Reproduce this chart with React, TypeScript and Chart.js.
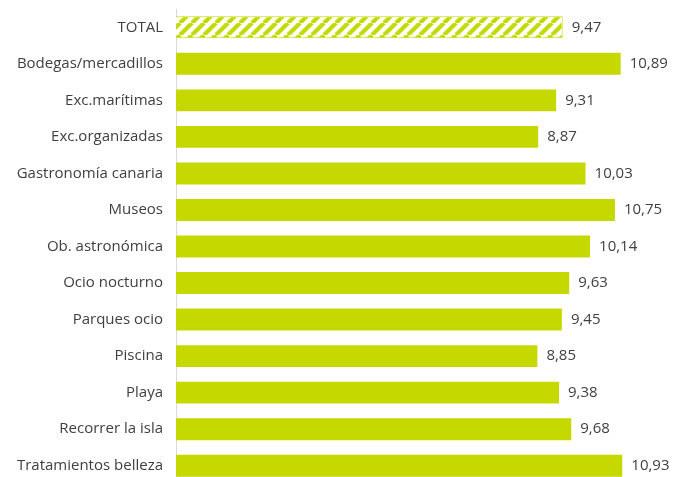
import React, { useEffect, useRef } from "react";
import { Chart, registerables } from "chart.js";

Chart.register(...registerables);

const categories = [
  "TOTAL",
  "Bodegas/mercadillos",
  "Exc.marítimas",
  "Exc.organizadas",
  "Gastronomía canaria",
  "Museos",
  "Ob. astronómica",
  "Ocio nocturno",
  "Parques ocio",
  "Piscina",
  "Playa",
  "Recorrer la isla",
  "Tratamientos belleza",
];
const values = [9.47, 10.89, 9.31, 8.87, 10.03, 10.75, 10.14, 9.63, 9.45, 8.85, 9.38, 9.68, 10.93];

const GREEN = "rgb(197,217,0)";
const FONT = "'Open Sans', sans-serif";

function makePattern(): CanvasPattern | string {
  const s = 12;
  const c = document.createElement("canvas");
  c.width = s;
  c.height = s;
  const ctx = c.getContext("2d");
  if (!ctx) return GREEN;
  ctx.fillStyle = "#ffffff";
  ctx.fillRect(0, 0, s, s);
  ctx.strokeStyle = GREEN;
  ctx.lineWidth = 4.2;
  ctx.beginPath();
  for (let k = -s; k <= 2 * s; k += s) {
    ctx.moveTo(k, s);
    ctx.lineTo(k + s, 0);
  }
  ctx.stroke();
  const p = ctx.createPattern(c, "repeat");
  return p || GREEN;
}

const valueLabels = {
  id: "valueLabels",
  afterDatasetsDraw(chart: any) {
    const ctx = chart.ctx;
    const meta = chart.getDatasetMeta(0);
    ctx.save();
    ctx.font = `15px ${FONT}`;
    ctx.fillStyle = "#404040";
    ctx.textAlign = "left";
    ctx.textBaseline = "middle";
    meta.data.forEach((bar: any, i: number) => {
      const txt = values[i].toFixed(2).replace(".", ",");
      ctx.fillText(txt, bar.x + 9, bar.y);
    });
    ctx.restore();
  },
};

export default function App() {
  const ref = useRef<HTMLCanvasElement>(null);
  useEffect(() => {
    if (!ref.current) return;
    const pattern = makePattern();
    const bg = values.map((_, i) => (i === 0 ? pattern : GREEN));
    const chart = new Chart(ref.current, {
      type: "bar",
      data: {
        labels: categories,
        datasets: [
          {
            data: values,
            backgroundColor: bg as any,
            borderColor: GREEN,
            borderWidth: values.map((_, i) => (i === 0 ? 1 : 0)),
            categoryPercentage: 1,
            barPercentage: 0.6,
          },
        ],
      },
      options: {
        indexAxis: "y",
        animation: false,
        responsive: false,
        maintainAspectRatio: false,
        layout: { padding: { top: 6, right: 17, bottom: 6, left: 0 } },
        plugins: {
          legend: { display: false },
          tooltip: { enabled: false },
        },
        scales: {
          x: {
            display: false,
            min: 0,
            max: 12,
          },
          y: {
            afterFit: (scale: any) => {
              scale.width = 176;
            },
            grid: { display: false, drawTicks: false },
            border: { display: true, color: "#d9d9d9", width: 1 },
            ticks: {
              color: "#404040",
              padding: 13,
              font: { family: FONT, size: 15 },
            },
          },
        },
      },
      plugins: [valueLabels],
    });
    return () => chart.destroy();
  }, []);
  return (
    <div style={{ position: "fixed", left: 0, top: 0, width: 683, height: 477, overflow: "hidden", background: "#fff" }}>
      <canvas ref={ref} width={683} height={519} style={{ display: "block", position: "absolute", left: 0, top: -13 }} />
    </div>
  );
}
